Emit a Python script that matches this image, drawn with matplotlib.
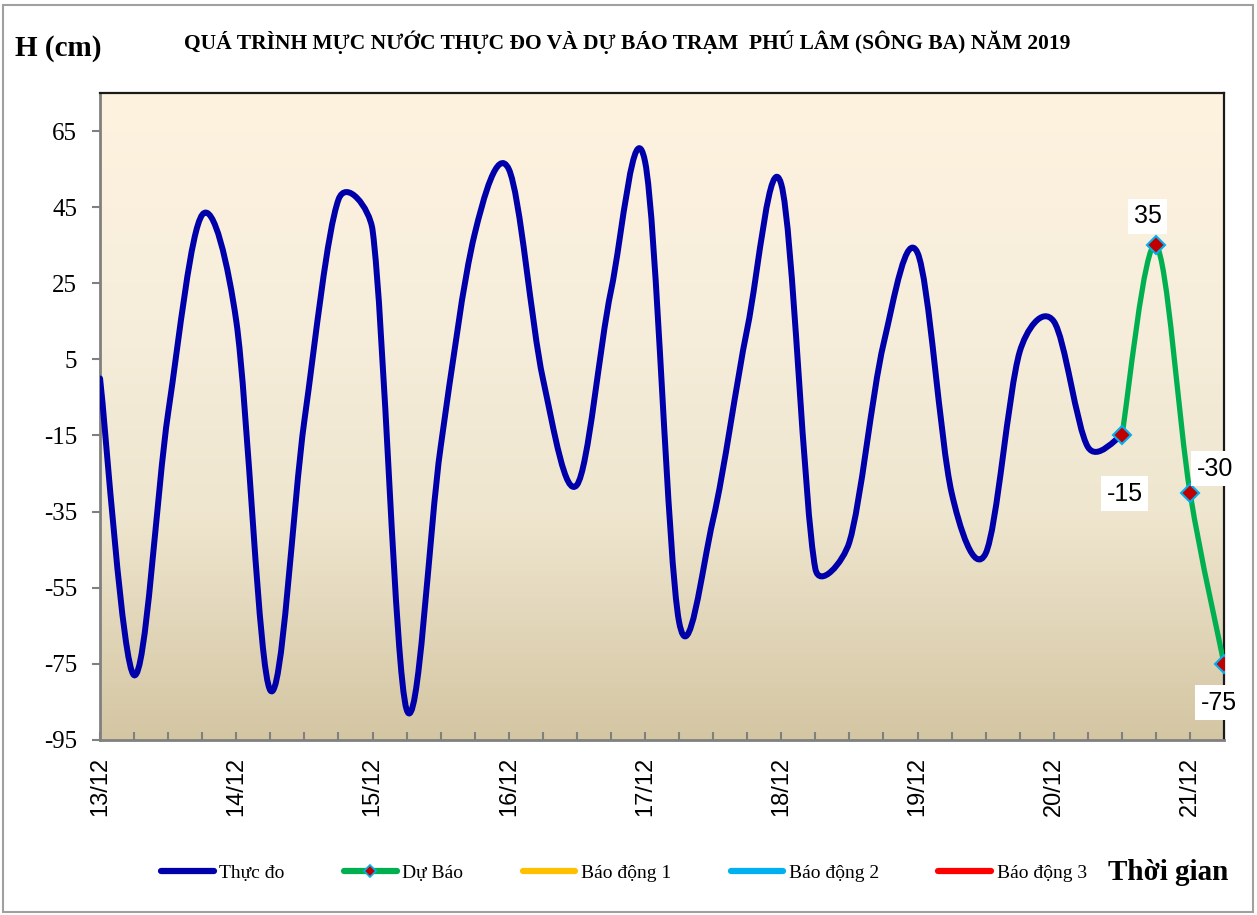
import numpy as np
import matplotlib
matplotlib.use("Agg")
import matplotlib.pyplot as plt
from matplotlib.path import Path
from matplotlib.patches import PathPatch, Rectangle
from matplotlib.lines import Line2D
from matplotlib.colors import LinearSegmentedColormap

# 6-hourly water level at Phu Lam (cm), starting 13/12 00h
observed = [0, -78, -9, 43, 15, -82, -11, 47, 39, -87, -18, 38, 55, 0, -28, 23,
            57, -64, -37, 13, 51, -50, -43, 9, 33, -30, -46, 7, 15, -18, -15]
forecast = [-15, 35, -30, -75]
forecast_start = 30
day_labels = ["13/12", "14/12", "15/12", "16/12", "17/12", "18/12", "19/12", "20/12", "21/12"]
y_ticks = [65, 45, 25, 5, -15, -35, -55, -75, -95]
legend_names = ["Thực đo", "Dự Báo", "Báo động 1", "Báo động 2", "Báo động 3"]

step = 0.25  # days per sample
ymin, ymax = -95, 75


def smooth_path(ax, x, y):
    """Bezier path through the points, roughly like Excel's smoothed line."""
    pts = ax.transData.transform(np.column_stack([x, y]))  # pixel space
    n = len(pts)
    verts = [pts[0]]
    codes = [Path.MOVETO]
    for i in range(n - 1):
        p0 = pts[max(i - 1, 0)]
        p1 = pts[i]
        p2 = pts[i + 1]
        p3 = pts[min(i + 2, n - 1)]
        d12 = np.hypot(*(p2 - p1))
        d02 = np.hypot(*(p2 - p0))
        d13 = np.hypot(*(p3 - p1))
        f1 = 1 / 6 if d02 / 6 < d12 / 2 else d12 / (2 * d02)
        f2 = 1 / 6 if d13 / 6 < d12 / 2 else d12 / (2 * d13)
        verts += [p1 + (p2 - p0) * f1, p2 - (p3 - p1) * f2, p2]
        codes += [Path.CURVE4] * 3
    verts = ax.transData.inverted().transform(np.array(verts))
    return Path(verts, codes)


fig = plt.figure(figsize=(12.57, 9.15), dpi=100)
ax = fig.add_axes([0.0796, 0.1913, 0.8942, 0.7071])

x_obs = np.arange(len(observed)) * step
x_fc = (forecast_start + np.arange(len(forecast))) * step
xmax = x_fc[-1]
ax.set_xlim(0, xmax)
ax.set_ylim(ymin, ymax)

# gradient background
cmap = LinearSegmentedColormap.from_list(
    "bg", [(0, "#d4c6a3"), (0.35, "#efe6cf"), (0.65, "#f6eddb"), (1, "#fef3df")])
grad = np.linspace(0, 1, 256).reshape(-1, 1)
ax.imshow(grad, cmap=cmap, aspect="auto", origin="lower",
          extent=[0, xmax, ymin, ymax], zorder=0)

ax.add_patch(PathPatch(smooth_path(ax, x_obs, observed), fill=False,
                       edgecolor="#0000aa", lw=4.3, capstyle="round",
                       joinstyle="round", zorder=3))
ax.add_patch(PathPatch(smooth_path(ax, x_fc, forecast), fill=False,
                       edgecolor="#00b050", lw=3.8, capstyle="round", zorder=4))
ax.plot(x_fc, forecast, ls="none", marker="D", ms=9, mfc="#c00000",
        mec="#00b0f0", mew=1.5, zorder=5)

offsets = [(2, -42), (-6, 21), (18, 17), (-4, -28)]
for xv, yv, off in zip(x_fc, forecast, offsets):
    ax.annotate(str(yv), (xv, yv), xytext=off, textcoords="offset points",
                ha="center", va="center", fontsize=18, family="Liberation Sans",
                bbox=dict(boxstyle="square,pad=0.22", fc="white", ec="none"),
                zorder=6, annotation_clip=False)

ax.set_xlim(0, xmax)
ax.set_ylim(ymin, ymax)

ax.set_yticks(y_ticks)
ax.set_yticklabels([str(v) for v in y_ticks], family="Liberation Serif", fontsize=18)
ax.tick_params(axis="y", direction="out", length=5.5, width=1.5, color="#808080", pad=11)

ax.set_xticks(np.arange(len(day_labels)))
ax.set_xticklabels(day_labels, rotation=90, family="Liberation Sans", fontsize=17)
ax.set_xticks(np.arange(0, xmax + 0.01, step), minor=True)
ax.tick_params(axis="x", which="both", direction="in", length=6, width=1.5,
               color="#808080", pad=12)

for side in ["left", "bottom"]:
    ax.spines[side].set_color("#808080")
    ax.spines[side].set_linewidth(2)
for side in ["top", "right"]:
    ax.spines[side].set_color("#1a1a1a")
    ax.spines[side].set_linewidth(1.6)

fig.text(0.499, 0.954, "QUÁ TRÌNH MỰC NƯỚC THỰC ĐO VÀ DỰ BÁO TRẠM  PHÚ LÂM (SÔNG BA) NĂM 2019",
         ha="center", va="center", family="Liberation Serif", weight="bold", fontsize=15.5)
fig.text(0.012, 0.947, "H (cm)", ha="left", va="center", family="Liberation Serif",
         weight="bold", fontsize=21)
fig.text(0.977, 0.046, "Thời gian", ha="right", va="center", family="Liberation Serif",
         weight="bold", fontsize=21)

handles = [
    Line2D([], [], color="#0000aa", lw=4.5, solid_capstyle="round"),
    Line2D([], [], color="#00b050", lw=4.5, solid_capstyle="round", marker="D",
           ms=6, mfc="#c00000", mec="#00b0f0", mew=1.2),
    Line2D([], [], color="#ffc000", lw=4.5, solid_capstyle="round"),
    Line2D([], [], color="#00b0f0", lw=4.5, solid_capstyle="round"),
    Line2D([], [], color="#ff0000", lw=4.5, solid_capstyle="round"),
]
fig.legend(handles, legend_names, loc="center left", bbox_to_anchor=(0.125, 0.046),
           ncol=5, frameon=False, handlelength=2.7, handletextpad=0.3,
           columnspacing=3.05, borderpad=0.2, borderaxespad=0,
           prop=dict(family="Liberation Serif", size=14))

fig.add_artist(Rectangle((0.002, 0.003), 0.995, 0.992, transform=fig.transFigure,
                         fill=False, edgecolor="#a0a0a0", lw=1.5))

fig.savefig("out.png", dpi=100)
